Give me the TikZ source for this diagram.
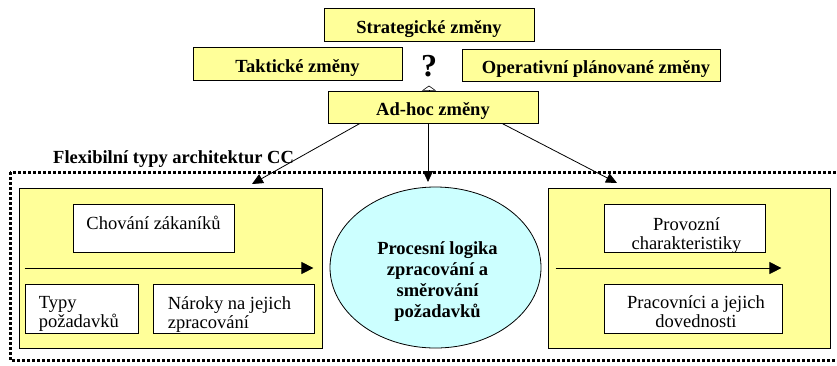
\documentclass[tikz,border=0pt]{standalone}
\usepackage{fontspec}
\setmainfont{Liberation Serif}
\usetikzlibrary{arrows.meta,shapes.geometric}

\definecolor{boxyellow}{HTML}{FFFF99}
\definecolor{logiccyan}{HTML}{CCFFFF}
\newcommand{\txtsize}{\fontsize{18.5}{19}\selectfont}

\begin{document}
\begin{tikzpicture}[x=1pt,y=-1pt,
    change/.style={draw,fill=boxyellow,inner sep=0,line width=.8pt,font=\txtsize\bfseries,text height=17pt,text depth=0pt},
    archbox/.style={draw,fill=boxyellow,inner sep=0,line width=.8pt},
    wbox/.style={draw,fill=white,inner sep=0,line width=.8pt},
    txt/.style={inner sep=0,font=\txtsize},
    arr/.style={line width=.8pt,-{Triangle[length=11pt,width=10pt]}},
    dotbox/.style={line width=3pt,dash pattern=on 3pt off 2pt}]
\useasboundingbox (0,0) rectangle (837,365);
\clip (0,0) rectangle (837,365);

% typy zmen
\node[change,minimum width=210,minimum height=33] (strat) at (429,25) {Strategické změny};
\node[change,minimum width=209,minimum height=33] (takt) at (297.5,63.5) {Taktické změny};
\node[change,minimum width=258,minimum height=32] (oper) at (591,65) {\hspace{10pt}Operativní plánované změny};
\node[change,minimum width=210,minimum height=32] (adhoc) at (433,107) {Ad-hoc změny};
\node[inner sep=0,font=\fontsize{32}{32}\selectfont\bfseries] (q) at (429,66) {?};
\draw[line width=.6pt,-{Triangle[open,length=5pt,width=14pt]}] (adhoc.north -| q) -- ++(0,-5);

% ramec architektur
\node[anchor=base west,inner sep=0,font=\txtsize\bfseries] (flex) at (53,163) {Flexibilní typy architektur CC};
\draw[dotbox] (10,172) rectangle (850,360);

\node[archbox,minimum width=303,minimum height=160] (lbox) at (170.5,268) {};
\node[archbox,minimum width=282,minimum height=160] (rbox) at (689,268) {};
\node[draw,fill=logiccyan,ellipse,line width=.8pt,minimum width=211,minimum height=161] (proc) at (435.5,267.5) {};
\node[inner sep=0,align=center,font=\fontsize{18.5}{21}\selectfont\bfseries] at ([xshift=2pt,yshift=-14pt]proc.center)
    {Procesní logika\\zpracování a\\směrování\\požadavků};

\coordinate (tl) at (252,184);
\coordinate (tm) at (428,182);
\coordinate (tr) at (617,183);
\draw[arr] ([xshift=-73pt]adhoc.south) -- (tl);
\draw[arr] ([xshift=-5pt]adhoc.south) -- (tm);
\draw[arr] ([xshift=69pt]adhoc.south) -- (tr);

% levy blok
\node[wbox,minimum width=161,minimum height=48] (chov) at (153.5,228) {};
\node[wbox,minimum width=113,minimum height=49] (typy) at (81.5,308.5) {};
\node[wbox,minimum width=161,minimum height=49] (naroky) at (233.5,308.5) {};
\node[txt,anchor=base] at ([yshift=-26pt]chov.north) {Chování zákaníků};
\node[txt,anchor=north west,align=left] at ([xshift=14pt,yshift=-13pt]typy.north west) {Typy\\požadavků};
\node[txt,anchor=north west,align=left] at ([xshift=15pt,yshift=-12.5pt]naroky.north west) {Nároky na jejich\\zpracování};
\draw[line width=.8pt,-{Triangle[length=12pt,width=12pt]}] ([xshift=6pt]lbox.west) -- ([xshift=-9pt]lbox.east);

% pravy blok
\node[wbox,minimum width=161,minimum height=48] (prov) at (684.5,228) {};
\node[wbox,minimum width=178,minimum height=49] (prac) at (693,308.5) {};
\node[txt,anchor=north,align=center] at ([xshift=2pt,yshift=-14pt]prov.north) {Provozní\\charakteristiky};
\node[txt,anchor=north,align=center] at ([xshift=3pt,yshift=-12pt]prac.north) {Pracovníci a jejich\\dovednosti};
\draw[line width=.8pt,-{Triangle[length=12pt,width=12pt]}] ([xshift=8pt]rbox.west) -- ([xshift=-49pt]rbox.east);

\end{tikzpicture}
\end{document}
